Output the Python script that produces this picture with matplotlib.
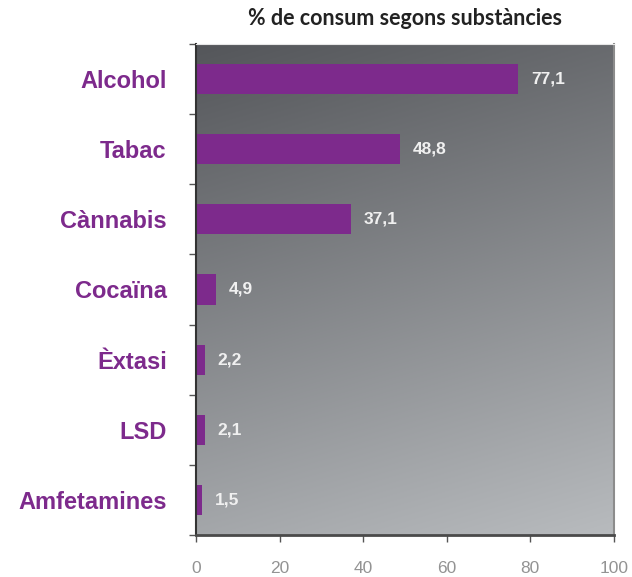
import numpy as np
import matplotlib.pyplot as plt

substances = ['Alcohol', 'Tabac', 'Cànnabis', 'Cocaïna', 'Èxtasi', 'LSD', 'Amfetamines']
consum = [77.1, 48.8, 37.1, 4.9, 2.2, 2.1, 1.5]
xticks = [0, 20, 40, 60, 80, 100]

purple = '#7d2a8c'

fig = plt.figure(figsize=(6.32, 5.77), dpi=100)
ax = fig.add_axes([0.310, 0.0728, 0.6615, 0.851])

# grey gradient background, dark at top-left, light at bottom-right
gx, gy = np.meshgrid(np.linspace(0, 1, 200), np.linspace(0, 1, 200))
t = 0.8 * gy + 0.2 * gx
dark = np.array([84, 86, 90]) / 255
light = np.array([184, 187, 190]) / 255
grad = dark + (light - dark) * t[..., None]
ax.imshow(grad, extent=[0, 100, 6.5, -0.5], aspect='auto', zorder=0,
          interpolation='bilinear')

y = np.arange(len(substances))
ax.barh(y, consum, height=0.43, color=purple, zorder=2)

for yi, v in zip(y, consum):
    ax.text(v + 3.0, yi, f'{v:.1f}'.replace('.', ','), va='center', ha='left',
            color='#f0f0f0', fontsize=12.5, fontweight='bold',
            family='Liberation Sans', zorder=3)

ax.set_xlim(0, 100)
ax.set_ylim(6.5, -0.5)
ax.set_xticks(xticks)
ax.set_xticklabels([str(v) for v in xticks], color='#939393', fontsize=12.5,
                   family='Liberation Sans')
ax.set_yticks(y)
ax.set_yticklabels(substances, color=purple, fontsize=17, fontweight='bold',
                   family='Liberation Sans')
ax.set_yticks(np.arange(-0.5, 7, 1), minor=True)
ax.tick_params(axis='y', which='major', length=0, pad=21)
ax.tick_params(axis='y', which='minor', length=5, width=1, color='#555555', direction='out')
ax.tick_params(axis='x', length=5, width=1, color='#555555', pad=14)

ax.spines['left'].set_color('#333333')
ax.spines['left'].set_linewidth(1.5)
ax.spines['bottom'].set_color('#4a4a4a')
ax.spines['bottom'].set_linewidth(2)
ax.spines['top'].set_color('#e6e6e6')
ax.spines['right'].set_color('#8c8c8c')
ax.spines['right'].set_linewidth(1.5)

fig.text(0.641, 0.968, '% de consum segons substàncies', ha='center', va='center',
         fontsize=15.5, fontweight='bold', family='Lato', color='#222222')

fig.savefig('out.png', dpi=100)
